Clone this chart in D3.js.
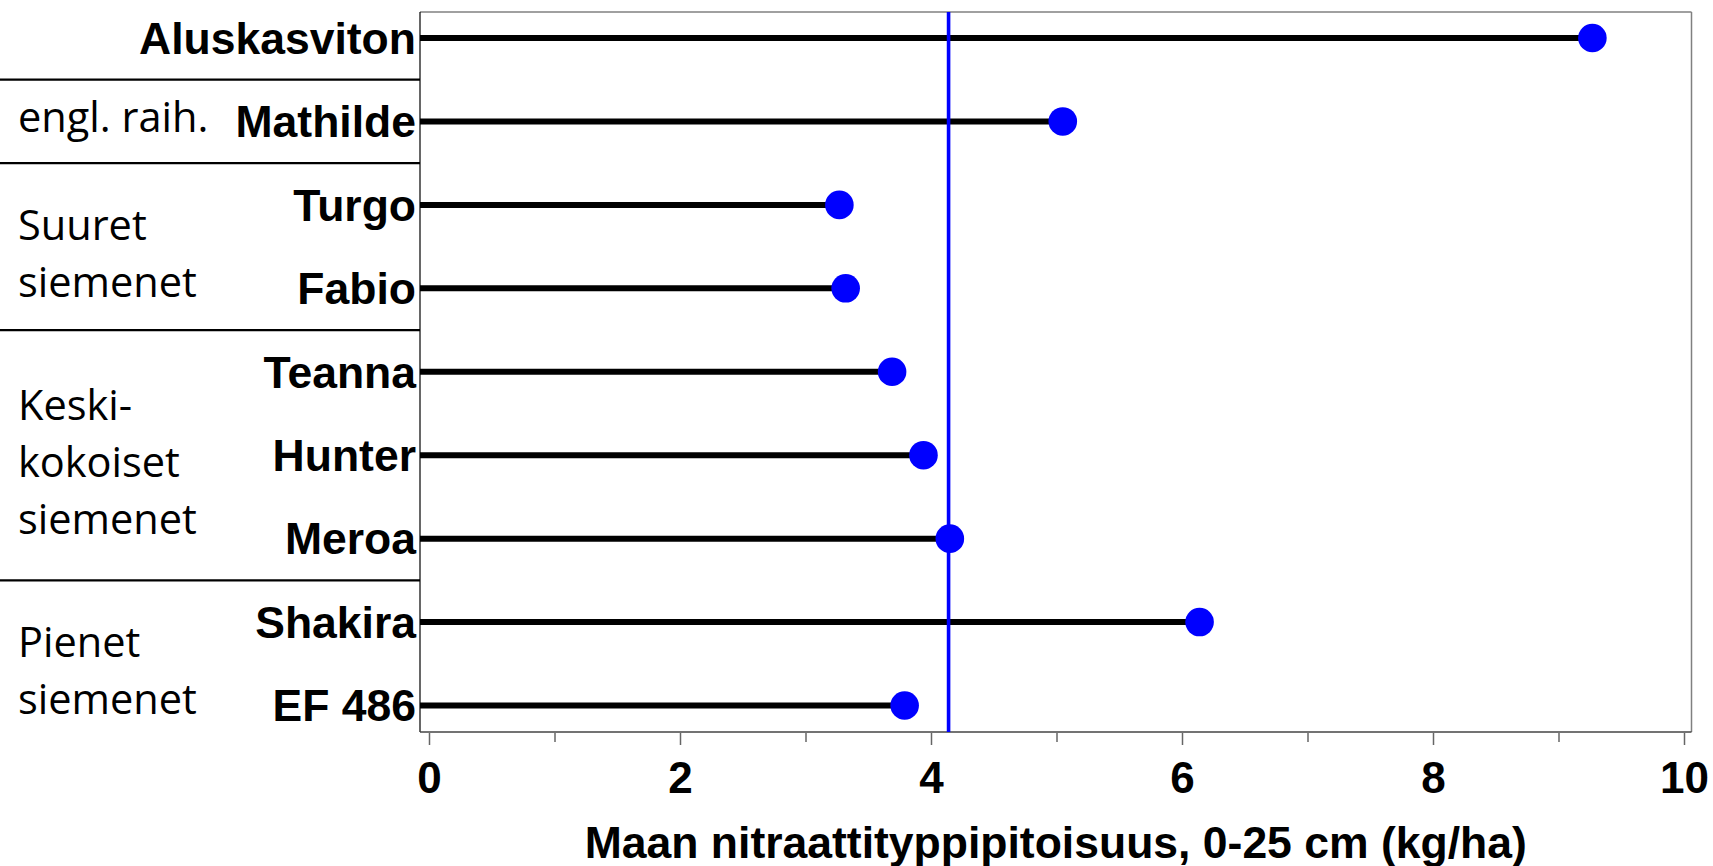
<!DOCTYPE html>
<html>
<head>
<meta charset="utf-8">
<script src="https://cdn.jsdelivr.net/npm/d3@7"></script>
<style>
  html, body { margin: 0; padding: 0; background: #fff; }
  svg { display: block; }
</style>
</head>
<body>
<svg id="chart" width="1713" height="866"></svg>
<script>
// ---- data ----
const categories = ["Aluskasviton", "Mathilde", "Turgo", "Fabio", "Teanna", "Hunter", "Meroa", "Shakira", "EF 486"];
const values = [9.27, 5.05, 3.27, 3.32, 3.69, 3.94, 4.15, 6.14, 3.79];
const referenceValue = 4.14;
const groupLabels = [
  ["engl. raih."],
  ["Suuret", "siemenet"],
  ["Keski-", "kokoiset", "siemenet"],
  ["Pienet", "siemenet"]
];
const groupMembers = [
  ["Mathilde"],
  ["Turgo", "Fabio"],
  ["Teanna", "Hunter", "Meroa"],
  ["Shakira", "EF 486"]
];
const tickValues = [0, 1, 2, 3, 4, 5, 6, 7, 8, 9, 10];
const xTitle = "Maan nitraattityppipitoisuus, 0-25 cm (kg/ha)";

// ---- layout ----
const svg = d3.select("#chart");
const frame = { left: 420, right: 1691.5, top: 12, bottom: 732 };
const boldFont = "'Liberation Sans', Arial, sans-serif";
const groupFont = "'Open Sans', 'Noto Sans', sans-serif";

const x = d3.scaleLinear().domain([0, 10]).range([429, 1684]);
const y = d3.scalePoint().domain(categories).range([38, 705.5]);
const step = y.step();

// group separators (left of plot)
const sepYs = groupMembers.map(g => y(g[0]) - step / 2);
svg.selectAll("line.sep").data(sepYs).enter().append("line")
  .attr("class", "sep")
  .attr("x1", 0).attr("x2", frame.left)
  .attr("y1", d => d).attr("y2", d => d)
  .attr("stroke", "#000").attr("stroke-width", 2.2);

// frame
svg.append("line").attr("x1", frame.left).attr("x2", frame.right)
  .attr("y1", frame.top).attr("y2", frame.top)
  .attr("stroke", "#808080").attr("stroke-width", 1.5);
svg.append("line").attr("x1", frame.right).attr("x2", frame.right)
  .attr("y1", frame.top).attr("y2", frame.bottom)
  .attr("stroke", "#808080").attr("stroke-width", 1.5);
svg.append("line").attr("x1", frame.left).attr("x2", frame.left)
  .attr("y1", frame.top).attr("y2", frame.bottom)
  .attr("stroke", "#000").attr("stroke-width", 1.2);
svg.append("line").attr("x1", frame.left).attr("x2", frame.right)
  .attr("y1", frame.bottom).attr("y2", frame.bottom)
  .attr("stroke", "#444").attr("stroke-width", 1.5);

// x axis
const axis = d3.axisBottom(x).tickValues(tickValues).tickSize(12)
  .tickFormat(d => (d % 2 === 0 ? d : ""));
const ax = svg.append("g").attr("transform", `translate(0,${frame.bottom + 1})`).call(axis);
ax.select(".domain").remove();
ax.selectAll(".tick line")
  .attr("stroke", "#666").attr("stroke-width", 1.5)
  .attr("y2", d => (d % 2 === 0 ? 12 : 9));
ax.selectAll(".tick text")
  .attr("y", 793 - frame.bottom - 1).attr("dy", 0)
  .attr("fill", "#000")
  .style("font-family", boldFont).style("font-weight", "bold").style("font-size", "44px");

// axis title
svg.append("text")
  .attr("x", (frame.left + frame.right) / 2).attr("y", 858)
  .attr("text-anchor", "middle")
  .style("font-family", boldFont).style("font-weight", "bold").style("font-size", "44.5px")
  .text(xTitle);

// stems
svg.selectAll("line.stem").data(categories).enter().append("line")
  .attr("class", "stem")
  .attr("x1", frame.left).attr("x2", (d, i) => x(values[i]))
  .attr("y1", d => y(d)).attr("y2", d => y(d))
  .attr("stroke", "#000").attr("stroke-width", 6);

// dots
svg.selectAll("circle.dot").data(categories).enter().append("circle")
  .attr("class", "dot")
  .attr("cx", (d, i) => x(values[i])).attr("cy", d => y(d))
  .attr("r", 14.3).attr("fill", "#0000ff");

// reference line
svg.append("line")
  .attr("x1", x(referenceValue)).attr("x2", x(referenceValue))
  .attr("y1", frame.top).attr("y2", frame.bottom)
  .attr("stroke", "#0000ff").attr("stroke-width", 3.6);

// category labels
svg.selectAll("text.cat").data(categories).enter().append("text")
  .attr("class", "cat")
  .attr("x", 416).attr("y", d => y(d) + 15.8)
  .attr("text-anchor", "end")
  .style("font-family", boldFont).style("font-weight", "bold").style("font-size", "44.5px")
  .text(d => d);

// group labels
const lh = 56.7;
groupLabels.forEach((lines, gi) => {
  const mem = groupMembers[gi];
  const c = (y(mem[0]) + y(mem[mem.length - 1])) / 2;
  const off = lines.length > 1 ? 22 : 10.5;
  const t = svg.append("text")
    .style("font-family", groupFont).style("font-size", "41.5px").attr("fill", "#000");
  lines.forEach((ln, li) => {
    t.append("tspan").attr("x", 18)
      .attr("y", c + (li - (lines.length - 1) / 2) * lh + off)
      .text(ln);
  });
});
</script>
</body>
</html>
